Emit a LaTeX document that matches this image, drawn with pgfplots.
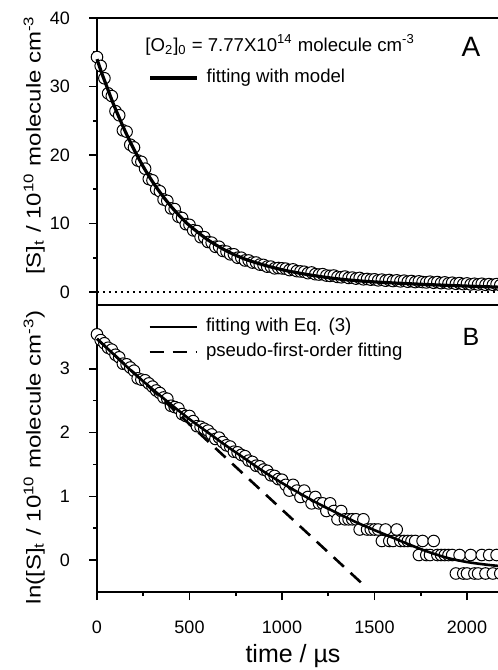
\documentclass[border=0pt]{standalone}
\usepackage{fontspec}
\setmainfont{Liberation Sans}
\usepackage{graphicx}
\usepackage{pgfplots}
\pgfplotsset{compat=1.18}
\usepackage{pgfplotstable}

% top panel: measured [S]_t
\pgfplotstableread{
t y
0 34.3
20 33.0
40 31.2
60 29.0
80 28.6
100 26.4
120 25.8
140 23.6
160 23.4
180 21.5
200 21.1
220 19.2
240 19.0
260 18.0
280 16.5
300 16.3
320 15.0
340 14.7
360 13.5
380 13.3
400 12.2
420 12.1
440 11.0
460 10.8
480 9.9
500 9.8
520 9.0
540 8.9
560 8.0
580 8.0
600 7.3
620 7.2
640 6.6
660 6.6
680 6.0
700 5.9
720 5.5
740 5.5
760 5.0
780 5.0
800 4.6
820 4.6
840 4.3
860 4.3
880 4.0
900 3.95
920 3.7
940 3.7
960 3.45
980 3.5
1000 3.45
1020 3.40
1040 3.20
1060 3.30
1080 3.05
1100 3.00
1120 2.95
1140 2.75
1160 2.85
1180 2.60
1200 2.55
1220 2.60
1240 2.40
1260 2.35
1280 2.40
1300 2.20
1320 2.15
1340 2.25
1360 2.05
1380 2.10
1400 1.95
1420 2.05
1440 1.85
1460 1.90
1480 1.80
1500 1.85
1520 1.70
1540 1.80
1560 1.65
1580 1.75
1600 1.60
1620 1.70
1640 1.55
1660 1.65
1680 1.50
1700 1.60
1720 1.45
1740 1.55
1760 1.45
1780 1.40
1800 1.50
1820 1.35
1840 1.45
1860 1.30
1880 1.40
1900 1.25
1920 1.35
1940 1.20
1960 1.30
1980 1.15
2000 1.25
2020 1.10
2040 1.20
2060 1.10
2080 1.20
2100 1.05
2120 1.15
2140 1.05
2160 1.15
2180 1.00
}\topdata

% top panel: fitting with model
\pgfplotstableread{
t y
0 34.0
25 32.0
50 30.2
75 28.4
100 26.7
150 23.6
200 20.8
250 18.3
300 16.1
350 14.2
400 12.5
450 11.0
500 9.7
600 7.6
700 6.0
800 4.8
900 3.95
1000 3.25
1100 2.72
1200 2.28
1300 1.92
1400 1.66
1500 1.47
1600 1.32
1700 1.19
1800 1.07
1900 0.96
2000 0.86
2100 0.77
2200 0.68
}\topfit

% bottom panel: ln([S]_t)
\pgfplotstableread{
t y
0 3.54
20 3.45
40 3.40
60 3.33
80 3.30
100 3.22
120 3.18
140 3.08
160 3.07
180 3.02
200 2.97
220 2.85
240 2.83
260 2.82
280 2.77
300 2.72
320 2.66
340 2.62
360 2.55
380 2.53
400 2.42
420 2.40
440 2.38
460 2.29
480 2.26
500 2.26
520 2.18
540 2.10
560 2.09
580 2.06
600 2.03
620 1.97
640 1.90
660 1.92
680 1.85
700 1.80
720 1.78
740 1.70
760 1.69
780 1.65
800 1.63
820 1.56
840 1.54
860 1.48
880 1.47
900 1.42
920 1.40
940 1.33
960 1.32
980 1.27
1000 1.26
1020 1.18
1040 1.09
1060 1.18
1080 1.09
1100 0.99
1120 1.09
1140 0.99
1160 0.89
1180 0.99
1200 0.89
1220 0.89
1240 0.77
1260 0.89
1280 0.77
1300 0.64
1320 0.77
1340 0.64
1360 0.64
1380 0.64
1400 0.64
1420 0.48
1440 0.64
1460 0.48
1480 0.48
1500 0.48
1520 0.48
1540 0.30
1560 0.48
1580 0.30
1600 0.30
1620 0.48
1640 0.30
1660 0.30
1680 0.30
1700 0.30
1720 0.30
1740 0.08
1760 0.30
1780 0.08
1800 0.08
1820 0.30
1840 0.08
1860 0.08
1880 0.08
1900 0.08
1920 0.08
1940 -0.21
1960 0.08
1980 -0.21
2000 -0.21
2020 0.08
2040 -0.21
2060 -0.21
2080 0.08
2100 -0.21
2120 0.08
2140 -0.21
2160 0.08
2180 -0.21
}\botdata

% bottom panel: fitting with Eq. (3)
\pgfplotstableread{
t y
0 3.47
50 3.335
100 3.20
200 2.93
300 2.68
400 2.44
500 2.21
600 2.00
700 1.79
800 1.59
900 1.39
1000 1.21
1100 1.04
1200 0.88
1300 0.735
1400 0.595
1500 0.47
1600 0.35
1700 0.23
1800 0.12
1900 0.03
2000 -0.03
2100 -0.07
2200 -0.10
}\botfit

% bottom panel: pseudo-first-order fitting
\pgfplotstableread{
t y
0 3.47
1460 -0.44
}\pseudo

\begin{document}
\begin{tikzpicture}
\useasboundingbox (-48.5pt,-39pt) rectangle (200.5pt,296pt);
\pgfplotsset{
  myaxis/.style={
    scale only axis, width=201.65pt, height=143.5pt,
    xmin=0, xmax=2180,
    clip=false, clip marker paths=true,
    axis line style={line width=1pt},
    tick style={line width=0.8pt, black},
    tick align=outside,
    major tick length=4pt, minor tick length=2pt,
    xtick pos=bottom, ytick pos=left,
    /pgf/number format/assume math mode=true,
    /pgf/number format/1000 sep={},
    tick label style={font=\fontsize{9}{10}\selectfont},
    yticklabel style={xshift=-6pt},
    xticklabel style={yshift=-7pt},
    xlabel style={font=\fontsize{12.5}{14}\selectfont},
    ylabel style={font=\fontsize{10}{12}\selectfont},
    legend cell align=left,
    legend image code/.code={\draw[##1] (0pt,0pt) -- (23.5pt,0pt);},
    legend style={draw=none, fill=none, inner sep=0pt,
      font=\fontsize{9.3}{11}\selectfont,
      nodes={inner sep=0pt, text height=7pt, text depth=2pt},
      row sep=3.5pt,
      /tikz/every odd column/.append style={column sep=4pt}},
  },
  datamark/.style={only marks, mark=*, mark size=2.9pt,
    mark options={fill=white, draw=black, line width=0.5pt}},
}
% bottom panel
\begin{axis}[myaxis, name=bot, at={(0,0)}, anchor=south west,
  ymin=-0.5, ymax=4,
  xtick={0,500,1000,1500,2000}, minor x tick num=1,
  ytick={0,1,2,3}, minor y tick num=1,
  xlabel={time / µs},
  xlabel style={at={(axis description cs:0.486,0)}, anchor=base, yshift=-35pt},
  ylabel={\scalebox{1.2}[1]{ln([S]\textsubscript{t} / 10\textsuperscript{10} molecule cm\textsuperscript{-3})}},
  ylabel style={at={(axis description cs:-0.14,0.47)}, anchor=base, rotate=0},
  legend style={at={(axis description cs:0.1265,0.88)}, anchor=west},
]
\addplot[datamark, forget plot] table[x=t,y=y] {\botdata};
\addplot[black, line width=1.3pt, smooth] table[x=t,y=y] {\botfit};
\addlegendentry{fitting with Eq. (3)}
\addplot[black, line width=1.3pt, dash pattern=on 7pt off 4.5pt] table[x=t,y=y] {\pseudo};
\addlegendentry{pseudo-first-order fitting}
\node[font=\fontsize{12.5}{15}\selectfont] at (axis description cs:0.927,0.889) {B};
\end{axis}
% top panel
\begin{axis}[myaxis, name=top, at={(0,143.5pt)}, anchor=south west,
  ymin=-1.9, ymax=40,
  xtick=\empty,
  ytick={0,10,20,30,40}, minor y tick num=1,
  ylabel={\scalebox{1.2}[1]{[S]\textsubscript{t} / 10\textsuperscript{10} molecule cm\textsuperscript{-3}}},
  ylabel style={at={(axis description cs:-0.14,0.557)}, anchor=base, rotate=0},
  legend style={at={(axis description cs:0.1265,0.791)}, anchor=west},
]
\addplot[black, line width=0.8pt, dash pattern=on 0.8pt off 2.2pt, forget plot] coordinates {(0,0) (2180,0)};
\addplot[datamark, forget plot] table[x=t,y=y] {\topdata};
\addplot[black, line width=1.6pt, smooth] table[x=t,y=y] {\topfit};
\addlegendentry{fitting with model}
\node[anchor=west, inner sep=0pt, font=\fontsize{9.3}{11}\selectfont] at (axis description cs:0.119,0.906) {[O\textsubscript{2}]\textsubscript{0} = 7.77X10\textsuperscript{14} molecule cm\textsuperscript{-3}};
\node[font=\fontsize{14}{16}\selectfont] at (axis description cs:0.927,0.899) {A};
\end{axis}
\end{tikzpicture}
\end{document}
